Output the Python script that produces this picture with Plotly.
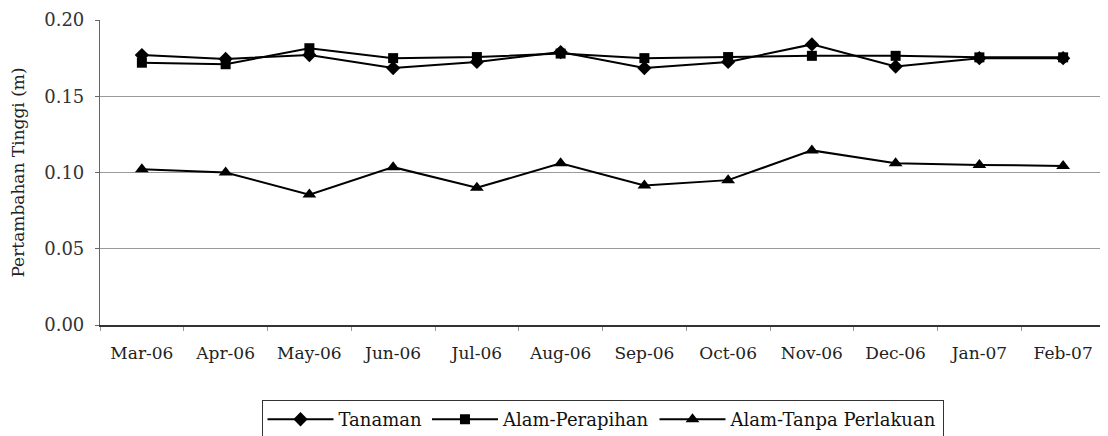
import plotly.graph_objects as go

months = ["Mar-06", "Apr-06", "May-06", "Jun-06", "Jul-06", "Aug-06",
          "Sep-06", "Oct-06", "Nov-06", "Dec-06", "Jan-07", "Feb-07"]
tanaman = [0.177, 0.1745, 0.177, 0.1685, 0.1725, 0.179,
           0.1685, 0.1725, 0.1840, 0.1695, 0.175, 0.175]
alam_perapihan = [0.172, 0.171, 0.1815, 0.175, 0.1757, 0.178,
                  0.175, 0.1757, 0.1765, 0.1765, 0.1755, 0.1755]
alam_tanpa = [0.1022, 0.100, 0.0855, 0.1035, 0.090, 0.106,
              0.0915, 0.095, 0.1145, 0.106, 0.105, 0.1043]

FONT = "DejaVu Serif"

fig = go.Figure()
fig.add_trace(go.Scatter(x=months, y=tanaman, name="Tanaman", mode="lines+markers",
                         line=dict(color="black", width=2),
                         marker=dict(symbol="diamond", size=11, color="black")))
fig.add_trace(go.Scatter(x=months, y=alam_perapihan, name="Alam-Perapihan", mode="lines+markers",
                         line=dict(color="black", width=2),
                         marker=dict(symbol="square", size=10, color="black")))
fig.add_trace(go.Scatter(x=months, y=alam_tanpa, name="Alam-Tanpa Perlakuan", mode="lines+markers",
                         line=dict(color="black", width=2),
                         marker=dict(symbol="triangle-up", size=12, color="black")))

fig.update_layout(
    width=1100, height=428,
    margin=dict(l=92, r=3, t=12, b=111, autoexpand=False),
    paper_bgcolor="white", plot_bgcolor="white",
    font=dict(family=FONT, color="#222", size=17),
    showlegend=True,
    legend=dict(orientation="h", x=0.5, xanchor="center", y=-0.246, yanchor="top",
                bordercolor="#333", borderwidth=1, font=dict(family=FONT, size=18, color="#111"),
                itemwidth=66, tracegroupgap=0),
    xaxis=dict(type="category", showgrid=False, showline=True, linecolor="#333", linewidth=1.5,
               ticks="outside", tickson="boundaries", ticklen=4, tickcolor="#999",
               ticklabelstandoff=12,
               tickfont=dict(family=FONT, size=17, color="#222"), range=[-0.5, 11.5]),
    yaxis=dict(range=[0, 0.20], dtick=0.05, tickformat=".2f", showgrid=True, gridcolor="#9a9a9a",
               gridwidth=1.2, showline=True, linecolor="#666", linewidth=1.2, zeroline=False,
               ticks="outside", ticklen=4, tickcolor="#666", ticklabelstandoff=7,
               tickfont=dict(family=FONT, size=18, color="#333"),
               title=dict(text="Pertambahan Tinggi (m)", font=dict(family=FONT, size=17, color="#222"),
                          standoff=36)),
)

fig.write_html("out.html")
